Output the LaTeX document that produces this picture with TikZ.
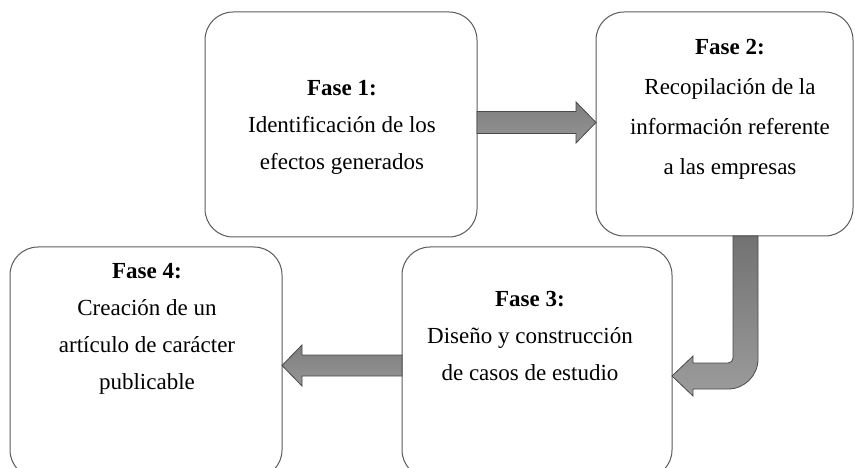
\documentclass[tikz,border=0pt]{standalone}
\usepackage{fontspec}
\setmainfont{Liberation Serif}
\usetikzlibrary{calc}
\definecolor{boxgray}{HTML}{5A5A5A}
\definecolor{arrowline}{HTML}{4A4A4A}
\definecolor{arrowtop}{HTML}{727272}
\definecolor{arrowbot}{HTML}{9C9C9C}
\definecolor{harrowtop}{HTML}{7E7E7E}
\definecolor{harrowbot}{HTML}{959595}
\begin{document}
\begin{tikzpicture}[x=1pt,y=-1pt,
  box/.style={draw=boxgray,line width=1pt,rounded corners=28pt,anchor=north west,inner sep=0pt,outer sep=0pt},
  txt/.style={align=center,font=\fontsize{23}{37}\selectfont,inner sep=0pt},
  blockarrow/.style={draw=arrowline,line width=0.8pt,top color=arrowtop,bottom color=arrowbot},
  harrow/.style={blockarrow,top color=harrowtop,bottom color=harrowbot}]
\useasboundingbox (0,0) rectangle (855,468);
% boxes
\node[box,minimum width=272pt,minimum height=225pt] (b1) at (205,12) {};
\node[box,minimum width=257pt,minimum height=224pt] (b2) at (596,12) {};
\node[box,minimum width=270pt,minimum height=231pt] (b3) at (402,247) {};
\node[box,minimum width=272pt,minimum height=231pt] (b4) at (10,247) {};
% texts
\node[txt] (t1) at (342,127) {\textbf{Fase 1:}\\Identificación de los\\efectos generados};
\node[txt,font=\fontsize{23}{40}\selectfont] (t2) at (730,109) {\textbf{Fase 2:}\\Recopilación de la\\información referente\\a las empresas};
\node[txt] (t3) at (530,336) {\textbf{Fase 3:}\\Diseño y construcción\\de casos de estudio};
\node[txt] (t4) at (147,329) {\textbf{Fase 4:}\\Creación de un\\artículo de carácter\\publicable};
% arrow 1 -> 2
\coordinate (a1s) at (b1.east |- 0,122.5);
\coordinate (a1e) at (b2.west |- 0,122.5);
\path[harrow] ($(a1s)+(0,-11)$) -- ($(a1e)+(-20,-11)$) -- ($(a1e)+(-20,-20.5)$)
  -- (a1e) -- ($(a1e)+(-20,20.5)$) -- ($(a1e)+(-20,11)$) -- ($(a1s)+(0,11)$) -- cycle;
% arrow 2 -> 3 (bent)
\coordinate (a2s) at (b2.south -| 745.5,0);
\coordinate (a2e) at (b3.east |- 0,376);
\path[blockarrow] ($(a2s)+(-12.5,0)$) -- ($(a2s)+(12.5,0)$) -- (758,359)
  .. controls (758,375.6) and (744.6,389) .. (728,389)
  -- (693,389) -- (693,396) -- (a2e) -- (693,356) -- (693,363) -- (728,363)
  .. controls (730.8,363) and (733,360.8) .. (733,358) -- cycle;
% arrow 3 -> 4
\coordinate (a3s) at (b3.west |- 0,365.5);
\coordinate (a3e) at (b4.east |- 0,365.5);
\path[harrow] ($(a3s)+(0,-10.5)$) -- ($(a3e)+(20,-10.5)$) -- ($(a3e)+(20,-20.5)$)
  -- (a3e) -- ($(a3e)+(20,20.5)$) -- ($(a3e)+(20,10.5)$) -- ($(a3s)+(0,10.5)$) -- cycle;
\end{tikzpicture}
\end{document}
